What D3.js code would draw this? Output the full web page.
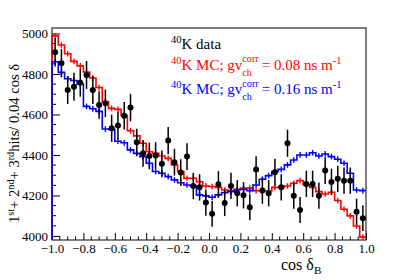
<!DOCTYPE html>
<html><head><meta charset="utf-8">
<script src="https://cdn.jsdelivr.net/npm/d3@7"></script>
<style>
html,body{margin:0;padding:0;background:#fff;}
svg text{font-family:"Liberation Serif","DejaVu Serif",serif !important;}
</style></head>
<body><svg id="c" width="407" height="280"></svg>
<script>
// ---- data (50 bins of width 0.04 in cos delta_B) ----
const binEdgesRange = [-1, 1];
const nBins = 50;
const dataValues = [4907,4853,4721,4737,4757,4795,4721,4647,4655,4532,
                    4545,4594,4634,4463,4408,4395,4397,4356,4471,4364,
                    4313,4392,4247,4240,4165,4110,4255,4163,4247,4211,
                    4201,4142,4328,4224,4211,4315,4240,4458,4199,4128,
                    4257,4257,4199,4323,4267,4282,4273,4273,4120,4088];
const dataErrors = [70,70,69,69,69,69,69,68,68,67,
                    67,68,68,67,66,66,66,66,67,66,
                    66,66,65,65,65,64,65,65,65,65,
                    65,64,66,65,65,66,65,67,65,64,
                    65,65,65,66,65,65,65,65,64,64];
const mcRed = [4988,4943,4900,4862,4840,4810,4780,4733,4662,4630,
               4625,4595,4520,4494,4458,4416,4408,4395,4383,4351,
               4318,4285,4285,4268,4247,4244,4240,4227,4224,4231,
               4236,4236,4224,4224,4222,4240,4240,4247,4260,4273,
               4252,4240,4219,4207,4216,4175,4132,4099,4049,3994];
const mcBlue = [4860,4808,4776,4768,4750,4640,4628,4615,4528,4526,
                4468,4460,4425,4408,4392,4359,4318,4310,4293,4277,
                4263,4252,4247,4203,4198,4191,4203,4214,4219,4227,
                4231,4224,4252,4280,4298,4318,4329,4351,4375,4400,
                4400,4411,4395,4405,4392,4379,4359,4310,4227,4224];
const mcErr = 14;
const yTickValues = [4000,4200,4400,4600,4800,5000];
const xTickValues = [-1,-0.8,-0.6,-0.4,-0.2,0,0.2,0.4,0.6,0.8,1];
const yDomain = [3980, 5027];

const FONT = '"Liberation Serif","DejaVu Serif",serif';
const svg = d3.select("#c");
const L = 52, R = 366, T = 28, B = 240;
const x = d3.scaleLinear().domain(binEdgesRange).range([L, R]);
const y = d3.scaleLinear().domain(yDomain).range([B, T]);
const bw = (binEdgesRange[1]-binEdgesRange[0])/nBins;
const lo = i => binEdgesRange[0] + i*bw;
const ctr = i => lo(i) + bw/2;

// frame
svg.append("rect").attr("x",L).attr("y",T).attr("width",R-L).attr("height",B-T)
  .attr("fill","none").attr("stroke","#000").attr("stroke-width",1);

// axes
const yAxis = d3.axisLeft(y).tickValues(yTickValues).tickFormat(d3.format("d"))
  .tickSizeInner(-8).tickSizeOuter(0).tickPadding(4);
const gy = svg.append("g").attr("transform",`translate(${L},0)`).call(yAxis);
gy.attr("font-family", null);
gy.select(".domain").remove();
gy.selectAll("text").attr("font-size",13).attr("fill","#000").style("font-family",FONT);
gy.selectAll("line").attr("stroke","#000");
const yMinor = d3.range(4000, 5001, 50).filter(v => !yTickValues.includes(v));
svg.append("g").selectAll("line").data(yMinor).join("line")
  .attr("x1",L).attr("x2",L+4).attr("y1",d=>y(d)).attr("y2",d=>y(d)).attr("stroke","#000");

const xAxis = d3.axisBottom(x).tickValues(xTickValues)
  .tickSizeInner(-7).tickSizeOuter(0).tickPadding(4);
const gx = svg.append("g").attr("transform",`translate(0,${B})`).call(xAxis);
gx.attr("font-family", null);
gx.select(".domain").remove();
gx.selectAll("text").attr("font-size",13).attr("fill","#000").style("font-family",FONT);
gx.selectAll("line").attr("stroke","#000");
const xMinor = d3.range(-20, 21).map(k => k*0.05).filter(v => Math.abs(Math.round(v*5)-v*5) > 1e-6);
svg.append("g").selectAll("line").data(xMinor).join("line")
  .attr("x1",d=>x(d)).attr("x2",d=>x(d)).attr("y1",B).attr("y2",B-3.5).attr("stroke","#000");

// histograms
function drawHist(vals, color) {
  const pts = [[x(lo(0)), y(yDomain[0])]];
  vals.forEach((v,i) => { pts.push([x(lo(i)), y(v)]); pts.push([x(lo(i+1)), y(v)]); });
  svg.append("path").attr("d", d3.line()(pts)).attr("fill","none")
    .attr("stroke",color).attr("stroke-width",1.6);
  svg.append("g").selectAll("line").data(vals).join("line")
    .attr("x1",(d,i)=>x(ctr(i))).attr("x2",(d,i)=>x(ctr(i)))
    .attr("y1",d=>y(d-mcErr)).attr("y2",d=>y(d+mcErr))
    .attr("stroke",color).attr("stroke-width",1.4);
}
drawHist(mcRed, "#ff0000");
drawHist(mcBlue, "#0000ff");

// data points
const gd = svg.append("g");
gd.selectAll("line").data(dataValues).join("line")
  .attr("x1",(d,i)=>x(ctr(i))).attr("x2",(d,i)=>x(ctr(i)))
  .attr("y1",(d,i)=>y(d-dataErrors[i])).attr("y2",(d,i)=>y(d+dataErrors[i]))
  .attr("stroke","#000").attr("stroke-width",1.5);
gd.selectAll("circle").data(dataValues).join("circle")
  .attr("cx",(d,i)=>x(ctr(i))).attr("cy",d=>y(d)).attr("r",3).attr("fill","#000");

// rich text helper: parts = [{t, s(scale), dy(px), stack(bool: reuse previous start x)}]
function rich(parent, x0, y0, size, color, parts) {
  let cx = x0, prevStart = x0, prevW = 0;
  parts.forEach(p => {
    const fs = size*(p.s||1);
    let sx = cx;
    if (p.stack) sx = prevStart;
    const t = parent.append("text").attr("x",sx).attr("y",y0+(p.dy||0))
      .attr("font-size",fs).attr("fill",color).style("font-family",FONT).text(p.t);
    const w = t.node().getComputedTextLength();
    if (p.stack) { cx = Math.max(prevStart+prevW, sx+w); }
    else { cx = sx + w; }
    prevStart = sx; prevW = w;
  });
  return cx;
}

// legend
const fs = 15;
rich(svg, 171, 49, fs, "#000", [{t:"40",s:0.7,dy:-6},{t:"K data"}]);
rich(svg, 171, 70, fs, "#ff0000", [{t:"40",s:0.7,dy:-6},{t:"K MC; gv"},{t:"corr",s:0.68,dy:-8},{t:"ch",s:0.68,dy:5.5,stack:true},{t:"\u2009= 0.08 ns m"},{t:"-1",s:0.7,dy:-6}]);
rich(svg, 171, 93.5, fs, "#0000ff", [{t:"40",s:0.7,dy:-6},{t:"K MC; gv"},{t:"corr",s:0.68,dy:-7},{t:"ch",s:0.68,dy:6,stack:true},{t:"\u2009= 0.16 ns m"},{t:"-1",s:0.7,dy:-6}]);

// axis titles
rich(svg, 281, 270, 16, "#000", [{t:"cos \u03b4"},{t:"B",s:0.7,dy:4}]);
const yt = svg.append("g").attr("transform","translate(19,223) rotate(-90)");
rich(yt, 0, 0, 14.6, "#000", [{t:"1"},{t:"st",s:0.7,dy:-5.5},{t:" + 2"},{t:"nd",s:0.7,dy:-5.5},{t:" + 3"},{t:"rd",s:0.7,dy:-5.5},{t:" hits/ 0.04 cos \u03b4"}]);
</script></body></html>
